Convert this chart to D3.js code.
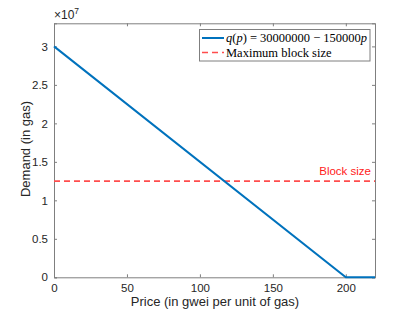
<!DOCTYPE html>
<html><head><meta charset="utf-8">
<script src="https://cdn.jsdelivr.net/npm/d3@7"></script>
<style>
body{margin:0;background:#fff;}
</style></head>
<body><svg id="c" width="415" height="312"></svg>
<script>
const prices = [0, 200, 220];
const demand = [30000000, 0, 0];
const blockSize = 12500000;
const xTicks = [0, 50, 100, 150, 200];
const yTicks = [0, 0.5, 1, 1.5, 2, 2.5, 3];
const yTickLabels = ["0", "0.5", "1", "1.5", "2", "2.5", "3"];
const legendLabels = ["q(p) = 30000000 − 150000p", "Maximum block size"];

const SANS = '"Liberation Sans",Arial,sans-serif';
const SERIF = '"Liberation Serif","DejaVu Serif",serif';
const L = 54, R = 375, T = 23.3, B = 277.3;
const svg = d3.select("#c").style("font-family", SANS);
const x = d3.scaleLinear().domain([0, 220]).range([L, R]);
const y = d3.scaleLinear().domain([0, 3.3]).range([B, T]);
const axisCol = "#262626";
const boxCol = "#7f7f7f";

// axes
const gx = svg.append("g").attr("transform", `translate(0,${B})`)
  .call(d3.axisBottom(x).tickValues(xTicks).tickSize(-3).tickPadding(7).tickFormat(d3.format("d")));
const gxt = svg.append("g").attr("transform", `translate(0,${T})`)
  .call(d3.axisTop(x).tickValues(xTicks).tickSize(-3).tickFormat(""));
const gy = svg.append("g").attr("transform", `translate(${L},0)`)
  .call(d3.axisLeft(y).tickValues(yTicks).tickSize(-3).tickPadding(6).tickFormat((d,i)=>yTickLabels[i]));
const gyr = svg.append("g").attr("transform", `translate(${R},0)`)
  .call(d3.axisRight(y).tickValues(yTicks).tickSize(-3).tickFormat(""));
[gx,gxt,gy,gyr].forEach(g=>{
  g.attr("font-family", SANS);
  g.select(".domain").attr("stroke", boxCol).attr("stroke-width",1);
  g.selectAll(".tick line").attr("stroke", boxCol);
  g.selectAll(".tick text").attr("fill", axisCol).attr("font-size", 11.5);
});

// exponent
const ex = svg.append("text").attr("x", L).attr("y", T-4).attr("fill", axisCol).attr("font-size", 12);
ex.append("tspan").text("×10");
ex.append("tspan").attr("dy", -5).attr("font-size", 8.5).text("7");

// block size line
svg.append("line").attr("x1", x(0)).attr("x2", x(220))
  .attr("y1", y(blockSize/1e7)).attr("y2", y(blockSize/1e7))
  .attr("stroke", "#ff4d4d").attr("stroke-width", 1.6).attr("stroke-dasharray", "6,4");
svg.append("text").attr("x", R-4).attr("y", y(blockSize/1e7)-6).attr("text-anchor","end")
  .attr("fill", "#ff1a1a").attr("font-size", 11.5).text("Block size");

// demand line
svg.append("path").datum(prices.map((p,i)=>[p, demand[i]]))
  .attr("fill","none").attr("stroke","#0072BD").attr("stroke-width",2)
  .attr("d", d3.line().x(d=>x(d[0])).y(d=>y(d[1]/1e7)));

// axis labels
svg.append("text").attr("x", 215).attr("y", 306).attr("text-anchor","middle")
  .attr("fill", axisCol).attr("font-size", 13).text("Price (in gwei per unit of gas)");
svg.append("text").attr("transform", `translate(30,${149}) rotate(-90)`).attr("text-anchor","middle")
  .attr("fill", axisCol).attr("font-size", 13).text("Demand (in gas)");

// legend
const lg = svg.append("g").style("font-family", SERIF);
lg.append("rect").attr("x", 199.5).attr("y", 29.5).attr("width", 170.5).attr("height", 31.5)
  .attr("fill","#fff").attr("stroke", boxCol).attr("stroke-width",1);
lg.append("line").attr("x1",202).attr("x2",224).attr("y1",38).attr("y2",38)
  .attr("stroke","#0072BD").attr("stroke-width",2);
lg.append("line").attr("x1",202).attr("x2",224).attr("y1",52.5).attr("y2",52.5)
  .attr("stroke","#ff4d4d").attr("stroke-width",1.6).attr("stroke-dasharray","6,4");
const t1 = lg.append("text").attr("x",226).attr("y",42).attr("font-size",12.5).attr("fill","#000")
  .attr("textLength", 141).attr("lengthAdjust","spacingAndGlyphs");
t1.append("tspan").attr("font-style","italic").text("q");
t1.append("tspan").text("(");
t1.append("tspan").attr("font-style","italic").text("p");
t1.append("tspan").text(") = 30000000 − 150000");
t1.append("tspan").attr("font-style","italic").text("p");
lg.append("text").attr("x",226).attr("y",56.5).attr("font-size",12.5).attr("fill","#000").text(legendLabels[1]);
</script></body></html>
